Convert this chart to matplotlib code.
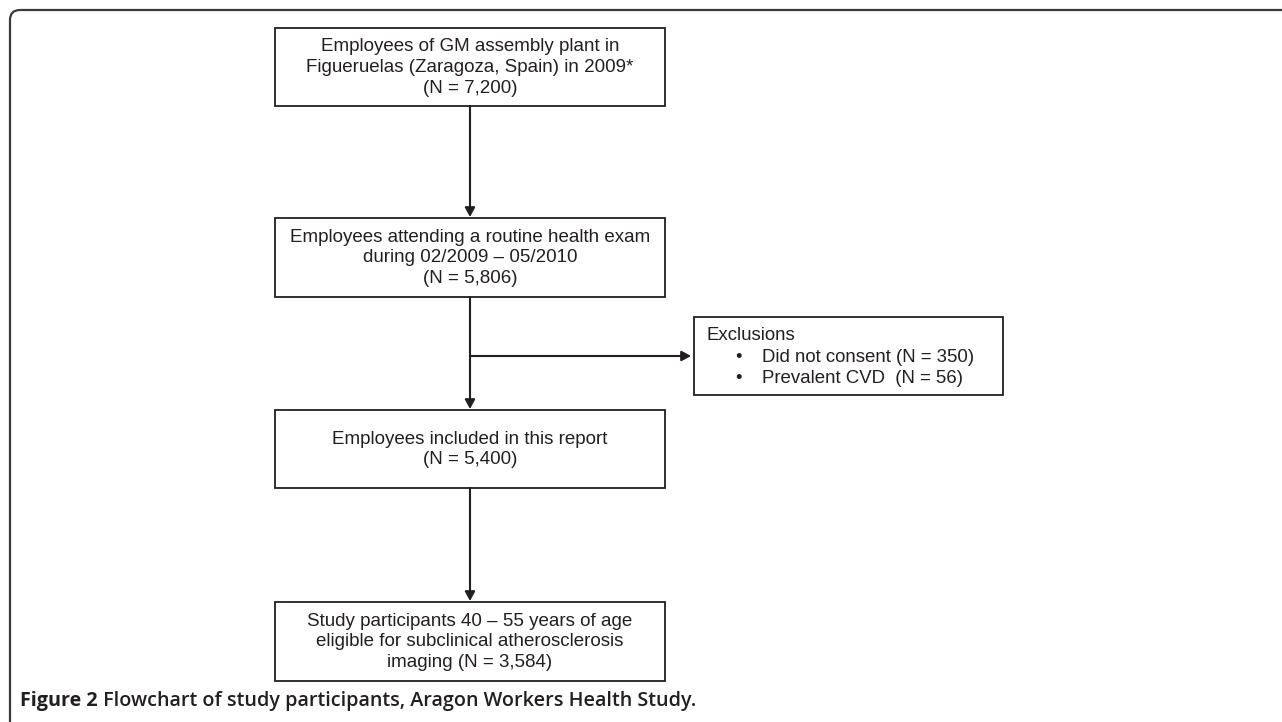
import matplotlib
matplotlib.use("Agg")
import matplotlib.pyplot as plt
from matplotlib.patches import Rectangle, FancyBboxPatch
import matplotlib.transforms as mtransforms

# ---- content ----
main_boxes = [
    ["Employees of GM assembly plant in", "Figueruelas (Zaragoza, Spain) in 2009*", "(N = 7,200)"],
    ["Employees attending a routine health exam", "during 02/2009 \u2013 05/2010", "(N = 5,806)"],
    ["Employees included in this report", "(N = 5,400)"],
    ["Study participants 40 \u2013 55 years of age", "eligible for subclinical atherosclerosis", "imaging (N = 3,584)"],
]
excl_title = "Exclusions"
excl_items = ["Did not consent (N = 350)", "Prevalent CVD  (N = 56)"]
caption_bold = "Figure 2"
caption_rest = " Flowchart of study participants, Aragon Workers Health Study."

# ---- layout (pixel coordinates) ----
W, H = 1282, 722
box_x0, box_x1 = 275, 665
box_y = [(28, 106), (218, 297), (410, 488), (602, 681)]
cx = 470
excl_box = (694, 1003, 317, 395)
branch_y = 356

LC = "#231f20"
fig = plt.figure(figsize=(W / 100, H / 100), dpi=100)
ax = fig.add_axes([0, 0, 1, 1])
ax.set_xlim(0, W)
ax.set_ylim(H, 0)
ax.axis("off")

# outer rounded frame
frame = FancyBboxPatch((10, 10), 1400, 800, boxstyle="round,pad=0,rounding_size=10",
                       fill=False, ec="#3a3a3a", lw=1.6)
ax.add_patch(frame)

FONT = "Liberation Sans"
FS = 13.5
LS = 20.8
FS_EX = 13.4

for (y0, y1), lines in zip(box_y, main_boxes):
    ax.add_patch(Rectangle((box_x0, y0), box_x1 - box_x0, y1 - y0, fill=False, ec=LC, lw=1.3))
    yc = (y0 + y1) / 2 + 0.5
    n = len(lines)
    for i, t in enumerate(lines):
        y = yc + (i - (n - 1) / 2) * LS
        ax.text(cx, y, t, ha="center", va="center", fontsize=FS, family=FONT, color=LC)

arrow_kw = dict(arrowstyle="-|>,head_length=0.55,head_width=0.3", color=LC, lw=1.5,
                shrinkA=0, shrinkB=0)

# vertical arrows
for (a0, a1), (b0, b1) in zip(box_y[:-1], box_y[1:]):
    ax.annotate("", xy=(cx, b0 - 1), xytext=(cx, a1), arrowprops=arrow_kw)

# branch to exclusions
ex0, ex1, ey0, ey1 = excl_box
ax.annotate("", xy=(ex0 - 3, branch_y), xytext=(cx, branch_y), arrowprops=arrow_kw)
ax.add_patch(Rectangle((ex0, ey0), ex1 - ex0, ey1 - ey0, fill=False, ec=LC, lw=1.3))
ax.text(707, 335, excl_title, ha="left", va="center", fontsize=FS_EX, family=FONT, color=LC)
for i, t in enumerate(excl_items):
    y = 357 + i * 21.5
    ax.text(738, y, "\u2022", ha="center", va="center", fontsize=FS_EX, family=FONT, color=LC)
    ax.text(762, y, t, ha="left", va="center", fontsize=FS_EX, family=FONT, color=LC)

# caption
CFS = 14.2
t1 = ax.text(20, 701, caption_bold, ha="left", va="center", fontsize=CFS,
             family="Open Sans", weight="bold", color="#231f20")
fig.canvas.draw()
x_end = t1.get_window_extent().x1
ax.text(x_end, 701, caption_rest, ha="left", va="center", fontsize=CFS,
        family="Open Sans", weight="semibold", color="#231f20",
        transform=mtransforms.blended_transform_factory(
            mtransforms.IdentityTransform(), ax.transData))

fig.savefig("out.png", dpi=100)
